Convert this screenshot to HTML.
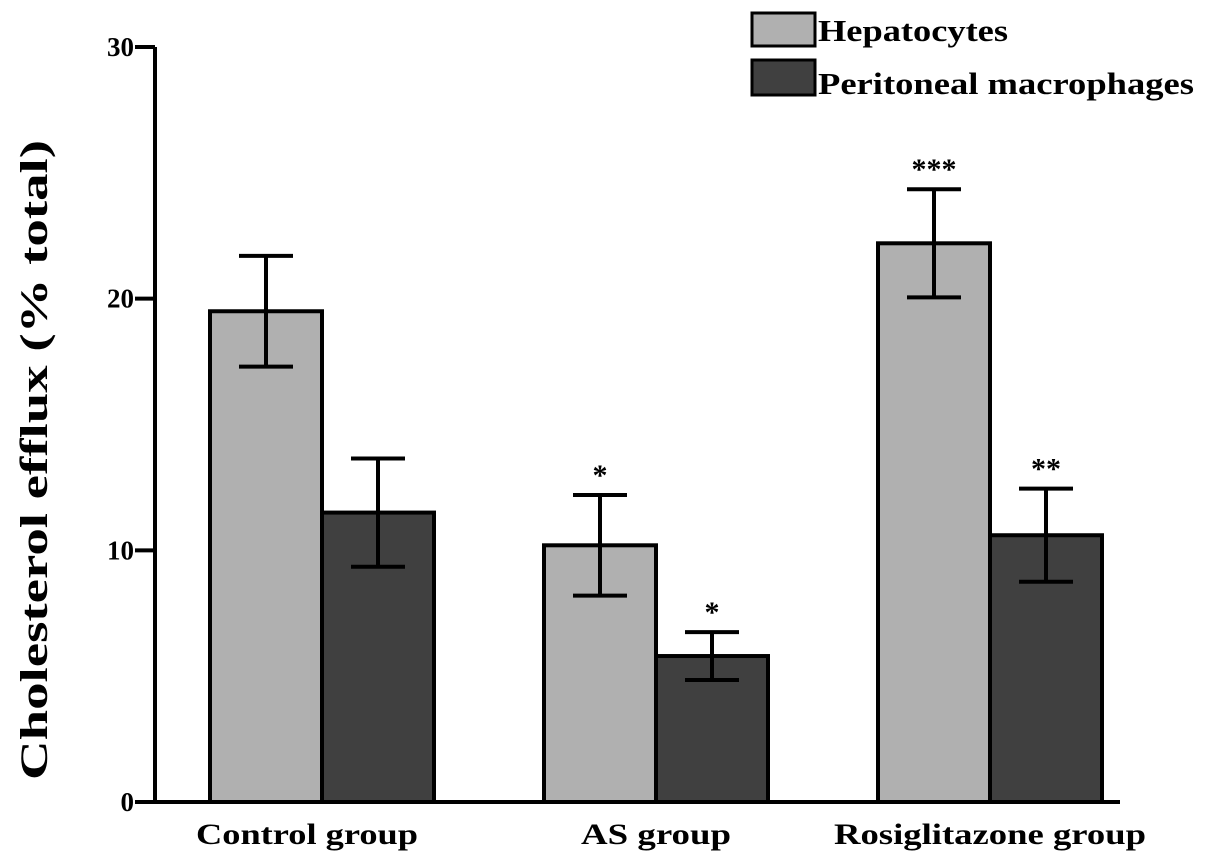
<!DOCTYPE html>
<html><head><meta charset="utf-8"><style>
body{margin:0;background:#fff}
svg{display:block;font-family:"Liberation Serif",serif;font-weight:bold}
</style></head><body>
<svg id="chart" width="1205" height="863" viewBox="0 0 1205 863" xmlns="http://www.w3.org/2000/svg">
<g id="plot"></g>
<text x="0" y="0" transform="translate(47,460) rotate(-90)" text-anchor="middle" font-size="39" textLength="640" lengthAdjust="spacingAndGlyphs">Cholesterol efflux (% total)</text>
<g>
<rect x="752" y="13" width="63" height="33" fill="#b0b0b0" stroke="#000" stroke-width="3"/>
<text x="818" y="41" font-size="31" textLength="190" lengthAdjust="spacingAndGlyphs">Hepatocytes</text>
<rect x="752" y="60" width="63" height="35" fill="#404040" stroke="#000" stroke-width="3"/>
<text x="818" y="94" font-size="31" textLength="376" lengthAdjust="spacingAndGlyphs">Peritoneal macrophages</text>
</g>
</svg>
<script>
const categories=["Control group","AS group","Rosiglitazone group"];
const hepValues=[19.5,10.2,22.2];
const hepErrors=[2.2,2.0,2.15];
const macValues=[11.5,5.8,10.6];
const macErrors=[2.15,0.95,1.85];
const hepStars=["","*","***"];
const macStars=["","*","**"];
const yTicks=[0,10,20,30];
const catLengths=[222,150,312];

const NS="http://www.w3.org/2000/svg";
const g=document.getElementById('plot');
const y0=802,yTop=47,yMax=30;
const y=v=>y0-(v/yMax)*(y0-yTop);
const gx=i=>322+i*334;
const bw=112;
function mk(t,a){const e=document.createElementNS(NS,t);for(const k in a)e.setAttribute(k,a[k]);g.appendChild(e);return e;}

function drawBar(i,left,val,err,fill,stars,series){
  const r=mk('rect',{x:left,y:y(val),width:bw,height:y0-y(val),fill:fill,stroke:'#000','stroke-width':4});
  
  
  const cx=left+bw/2;
  const eb=mk('path',{d:`M${cx},${y(val+err)}V${y(val-err)}M${cx-27},${y(val+err)}H${cx+27}M${cx-27},${y(val-err)}H${cx+27}`,stroke:'#000','stroke-width':4,fill:'none'});
  
  
  if(stars){const t=mk('text',{x:cx,y:y(val+err)-10,'text-anchor':'middle','font-size':30});t.textContent=stars;
    
    }
}
categories.forEach((c,i)=>{
  drawBar(i,gx(i)-bw,hepValues[i],hepErrors[i],'#b0b0b0',hepStars[i],'hepatocytes');
  drawBar(i,gx(i),macValues[i],macErrors[i],'#404040',macStars[i],'macrophages');
  const t=mk('text',{x:gx(i)-(i==0?15:0),y:844,'text-anchor':'middle','font-size':30,textLength:catLengths[i],lengthAdjust:'spacingAndGlyphs'});t.textContent=c;
  
  
});
const ya=mk('path',{d:`M155,${yTop}V${y0}`,stroke:'#000','stroke-width':4});


const xa=mk('path',{d:`M135,${y0}H1120`,stroke:'#000','stroke-width':4});


yTicks.forEach(v=>{
  const tk=mk('path',{d:`M135,${y(v)}H155`,stroke:'#000','stroke-width':4});
  
  
  const t=mk('text',{x:134,y:y(v)+9,'text-anchor':'end','font-size':27});t.textContent=v;
  
  
});
</script>
</body></html>
